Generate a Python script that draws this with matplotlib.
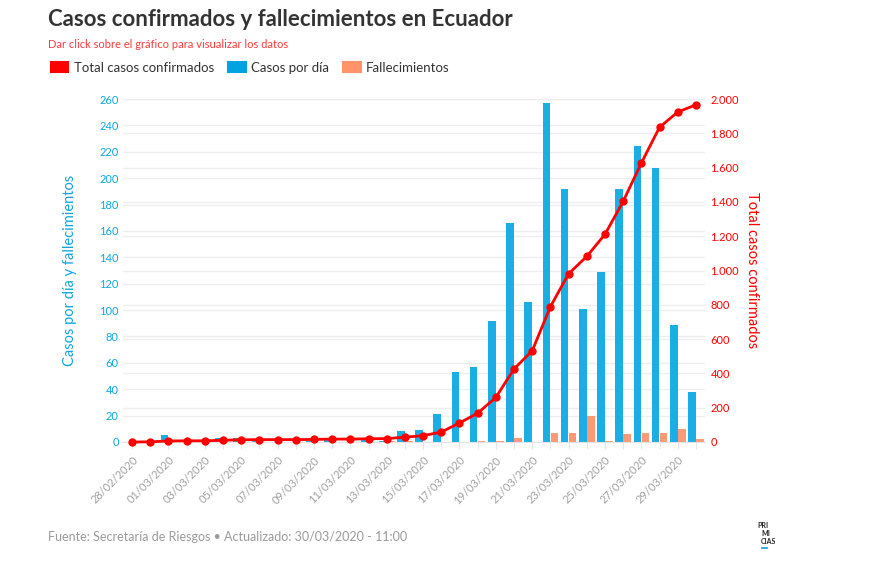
import matplotlib
matplotlib.use('Agg')
import matplotlib.pyplot as plt
import numpy as np
from matplotlib.patches import Patch
from matplotlib.lines import Line2D
from matplotlib.ticker import FuncFormatter

plt.rcParams['font.family'] = ['Lato', 'DejaVu Sans']

# datos (28/02/2020 - 30/03/2020)
fechas = ['28/02/2020', '29/02/2020'] + ['%02d/03/2020' % d for d in range(1, 31)]
casos_dia = [0, 1, 5, 1, 0, 3, 3, 1, 0, 0, 1, 2, 0, 2, 1, 8,
             9, 21, 53, 57, 92, 166, 106, 257, 192, 101, 129, 192, 224, 208, 89, 38]
fallecimientos = [0, 0, 0, 0, 0, 0, 0, 0, 0, 0, 0, 0, 0, 0, 1, 1,
                  0, 0, 0, 1, 1, 3, 0, 7, 7, 20, 1, 6, 7, 7, 10, 2]
total_casos = [0, 1, 6, 7, 7, 10, 13, 14, 14, 14, 15, 17, 17, 19, 20, 28,
               37, 58, 111, 168, 260, 426, 532, 789, 981, 1082, 1211, 1403, 1627, 1835, 1924, 1966]

AZUL = '#1aaee5'
AZUL_TXT = '#10a5df'
ROJO = '#ff0000'
SALMON = '#fc9a76'
GRIS = '#eeeeee'

x = np.arange(len(fechas))

fig = plt.figure(figsize=(8.77, 5.8), dpi=100)
rect = [123/877, 1-442/580, 582/877, 343/580]

# eje derecho (fondo con grilla)
ax2 = fig.add_axes(rect, zorder=1)
ax2.yaxis.tick_right()
ax2.yaxis.set_label_position('right')
ax2.set_ylim(0, 2000)
ax2.set_yticks(np.arange(0, 2001, 200))
ax2.yaxis.set_major_formatter(FuncFormatter(lambda v, p: f'{int(v):,}'.replace(',', '.')))
ax2.grid(axis='y', color=GRIS, lw=1)
ax2.tick_params(axis='y', colors=ROJO, labelsize=8, length=0, pad=4)
ax2.set_ylabel('Total casos confirmados', color=ROJO, fontsize=10.5, rotation=-90, labelpad=14)
for s in ax2.spines.values():
    s.set_visible(False)

# eje izquierdo: barras
ax = fig.add_axes(rect, zorder=2, sharex=ax2)
ax.patch.set_visible(False)
ax.bar(x - 0.22, casos_dia, width=0.42, color=AZUL, zorder=2)
ax.bar(x + 0.22, fallecimientos, width=0.42, color=SALMON, zorder=2)
ax.set_xlim(-0.5, len(fechas) - 0.5)
ax.set_ylim(0, 260)
ax.set_yticks(np.arange(0, 261, 20))
ax.grid(axis='y', color=GRIS, lw=1, zorder=0)
ax.set_axisbelow(True)
ax.tick_params(axis='y', colors=AZUL_TXT, labelsize=8, length=0, pad=3)
ax.set_ylabel('Casos por día y fallecimientos', color=AZUL_TXT, fontsize=10.5, labelpad=16)
ax.set_xticks(x[::2])
ax.set_xticklabels(fechas[::2], rotation=45, ha='right', va='top',
                   rotation_mode='anchor', color='#a0a0a0', fontsize=8)
ax.set_xticks(x[1::2], minor=True)
ax.tick_params(axis='x', which='both', length=5, color='#e4e4e4', pad=4)
for s in ['top', 'left', 'right']:
    ax.spines[s].set_visible(False)
ax.spines['bottom'].set_color('#e4e4e4')
ax2.tick_params(axis='x', which='both', bottom=False, labelbottom=False)

# linea total casos
ax3 = fig.add_axes(rect, zorder=3, sharex=ax2)
ax3.patch.set_visible(False)
ax3.plot(x, total_casos, color=ROJO, lw=2, marker='o', markersize=5, clip_on=False)
ax3.set_ylim(0, 2000)
ax3.axis('off')

# titulos
fig.text(48/877, 1-19/580, 'Casos confirmados y fallecimientos en Ecuador',
         fontsize=16, fontweight='bold', color='#333333', va='center')
fig.text(48/877, 1-45/580, 'Dar click sobre el gráfico para visualizar los datos',
         fontsize=8, color='#ff3b3b', va='center')

handles = [Patch(facecolor=c, edgecolor=c, lw=1.5, joinstyle='round')
           for c in [ROJO, '#00a3e0', '#ff9369']]
fig.legend(handles, ['Total casos confirmados', 'Casos por día', 'Fallecimientos'],
           loc='center left', bbox_to_anchor=(44/877, 1-68/580), ncol=3, frameon=False,
           fontsize=9.5, handlelength=1.35, handleheight=0.8, handletextpad=0.4,
           columnspacing=1.05, borderpad=0, labelcolor='#333333')

fig.text(48/877, 1-537/580, 'Fuente: Secretaría de Riesgos • Actualizado: 30/03/2020 - 11:00',
         fontsize=9, color='#9a9a9a', va='center')

# logo
fig.text(757/877, 1-525/580, 'PRI', fontsize=5, fontweight='bold', color='#222222', va='center')
fig.text(761/877, 1-533/580, 'MI', fontsize=5, fontweight='bold', color='#222222', va='center')
fig.text(761/877, 1-541/580, 'CIAS', fontsize=5, fontweight='bold', color='#222222', va='center')
fig.add_artist(Line2D([762/877, 767/877], [1-548/580, 1-548/580], color='#00a3e0', lw=1.2))

fig.savefig('out.png', dpi=100)
